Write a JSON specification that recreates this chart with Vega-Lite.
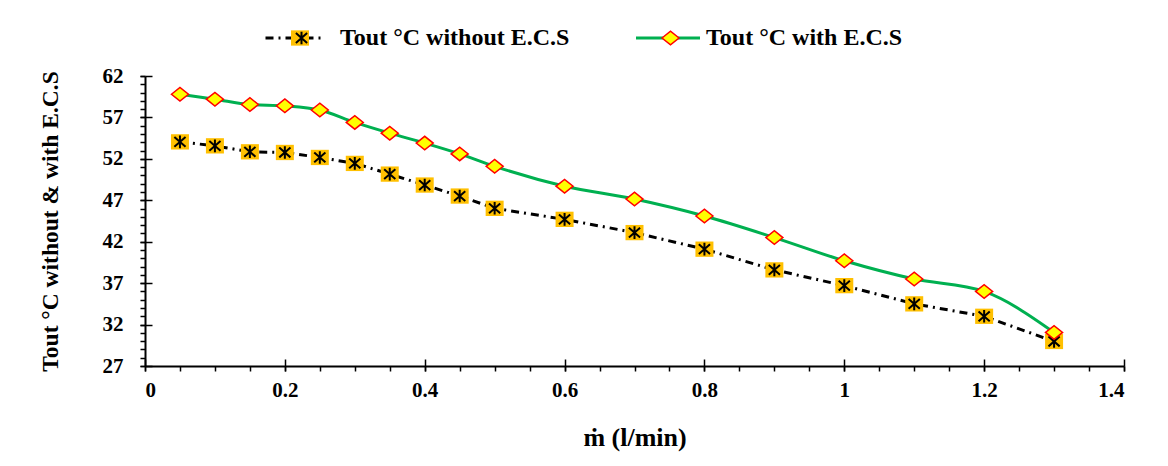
{
  "$schema": "https://vega.github.io/schema/vega-lite/v6.json",
  "width": 979,
  "height": 290,
  "autosize": {"type": "none"},
  "padding": {"left": 145, "top": 76, "right": 44, "bottom": 100},
  "background": "white",
  "data": {
    "values": [
      {"m": 0.05, "T": 54.05, "series": "Tout °C without E.C.S"},
      {"m": 0.1, "T": 53.57, "series": "Tout °C without E.C.S"},
      {"m": 0.15, "T": 52.85, "series": "Tout °C without E.C.S"},
      {"m": 0.2, "T": 52.77, "series": "Tout °C without E.C.S"},
      {"m": 0.25, "T": 52.17, "series": "Tout °C without E.C.S"},
      {"m": 0.3, "T": 51.45, "series": "Tout °C without E.C.S"},
      {"m": 0.35, "T": 50.16, "series": "Tout °C without E.C.S"},
      {"m": 0.4, "T": 48.84, "series": "Tout °C without E.C.S"},
      {"m": 0.45, "T": 47.51, "series": "Tout °C without E.C.S"},
      {"m": 0.5, "T": 46.03, "series": "Tout °C without E.C.S"},
      {"m": 0.6, "T": 44.7, "series": "Tout °C without E.C.S"},
      {"m": 0.7, "T": 43.1, "series": "Tout °C without E.C.S"},
      {"m": 0.8, "T": 41.1, "series": "Tout °C without E.C.S"},
      {"m": 0.9, "T": 38.6, "series": "Tout °C without E.C.S"},
      {"m": 1.0, "T": 36.7, "series": "Tout °C without E.C.S"},
      {"m": 1.1, "T": 34.5, "series": "Tout °C without E.C.S"},
      {"m": 1.2, "T": 33.0, "series": "Tout °C without E.C.S"},
      {"m": 1.3, "T": 29.96, "series": "Tout °C without E.C.S"},
      {"m": 0.05, "T": 59.8, "series": "Tout °C with E.C.S"},
      {"m": 0.1, "T": 59.2, "series": "Tout °C with E.C.S"},
      {"m": 0.15, "T": 58.56, "series": "Tout °C with E.C.S"},
      {"m": 0.2, "T": 58.4, "series": "Tout °C with E.C.S"},
      {"m": 0.25, "T": 57.9, "series": "Tout °C with E.C.S"},
      {"m": 0.3, "T": 56.4, "series": "Tout °C with E.C.S"},
      {"m": 0.35, "T": 55.1, "series": "Tout °C with E.C.S"},
      {"m": 0.4, "T": 53.9, "series": "Tout °C with E.C.S"},
      {"m": 0.45, "T": 52.6, "series": "Tout °C with E.C.S"},
      {"m": 0.5, "T": 51.1, "series": "Tout °C with E.C.S"},
      {"m": 0.6, "T": 48.7, "series": "Tout °C with E.C.S"},
      {"m": 0.7, "T": 47.15, "series": "Tout °C with E.C.S"},
      {"m": 0.8, "T": 45.1, "series": "Tout °C with E.C.S"},
      {"m": 0.9, "T": 42.5, "series": "Tout °C with E.C.S"},
      {"m": 1.0, "T": 39.7, "series": "Tout °C with E.C.S"},
      {"m": 1.1, "T": 37.5, "series": "Tout °C with E.C.S"},
      {"m": 1.2, "T": 36.0, "series": "Tout °C with E.C.S"},
      {"m": 1.3, "T": 31.05, "series": "Tout °C with E.C.S"}
    ]
  },
  "resolve": {
    "scale": {"stroke": "independent", "fill": "independent"},
    "axis": {"x": "independent", "y": "independent"}
  },
  "layer": [
    {
      "transform": [{"filter": "datum.series === 'Tout °C without E.C.S'"}],
      "mark": {"type": "line", "strokeWidth": 3, "strokeDash": [8, 5, 2, 5], "interpolate": "linear"},
      "encoding": {
        "x": {"field": "m", "type": "quantitative", "scale": {"domain": [0, 1.4], "nice": false, "zero": false},
          "axis": {"orient": "bottom", "values": [0, 0.2, 0.4, 0.6, 0.8, 1, 1.2, 1.4], "format": ".1~f", "tickSize": 5, "tickWidth": 1.5, "domainWidth": 2, "labelPadding": 8, "labelFont": "Liberation Serif", "labelFontWeight": "bold", "labelFontSize": 21, "title": "ṁ (l/min)", "titleFontSize": 26, "titlePadding": 24}},
        "y": {"field": "T", "type": "quantitative", "scale": {"domain": [27, 62], "nice": false, "zero": false},
          "axis": {"orient": "left", "values": [27, 32, 37, 42, 47, 52, 57, 62], "tickSize": 5, "tickWidth": 1.5, "domainWidth": 2, "labelPadding": 17, "labelFont": "Liberation Serif", "labelFontWeight": "bold", "labelFontSize": 21, "title": "Tout °C without & with E.C.S", "titleFontSize": 23.5, "titlePadding": 40}},
        "stroke": {"field": "series", "type": "nominal", "scale": {"domain": ["Tout °C without E.C.S"], "range": ["#000000"]},
          "legend": {"orient": "none", "legendX": 119, "legendY": -67, "title": null, "symbolType": "stroke", "symbolSize": 3025, "symbolStrokeWidth": 3, "symbolDash": [8, 5, 2, 5], "labelOffset": 18}}
      }
    },
    {
      "transform": [{"filter": "datum.series === 'Tout °C with E.C.S'"}],
      "mark": {"type": "line", "strokeWidth": 3, "interpolate": "monotone"},
      "encoding": {
        "x": {"field": "m", "type": "quantitative", "scale": {"domain": [0, 1.4], "nice": false, "zero": false},
          "axis": {"orient": "bottom", "values": [0, 0.05, 0.1, 0.15, 0.2, 0.25, 0.3, 0.35, 0.4, 0.45, 0.5, 0.55, 0.6, 0.65, 0.7, 0.75, 0.8, 0.85, 0.9, 0.95, 1, 1.05, 1.1, 1.15, 1.2, 1.25, 1.3, 1.35, 1.4], "labels": false, "domain": false, "title": null, "tickSize": 5, "tickWidth": 1.5}},
        "y": {"field": "T", "type": "quantitative", "scale": {"domain": [27, 62], "nice": false, "zero": false},
          "axis": {"orient": "left", "values": [27, 28, 29, 30, 31, 32, 33, 34, 35, 36, 37, 38, 39, 40, 41, 42, 43, 44, 45, 46, 47, 48, 49, 50, 51, 52, 53, 54, 55, 56, 57, 58, 59, 60, 61, 62], "labels": false, "domain": false, "title": null, "tickSize": 5, "tickWidth": 1.5}},
        "stroke": {"field": "series", "type": "nominal", "scale": {"domain": ["Tout °C with E.C.S"], "range": ["#00B050"]},
          "legend": {"orient": "none", "legendX": 489.5, "legendY": -71.5, "title": null, "symbolType": "stroke", "symbolSize": 4096, "symbolStrokeWidth": 3, "labelOffset": 4.5}}
      }
    },
    {
      "transform": [{"filter": "datum.series === 'Tout °C without E.C.S'"}],
      "mark": {"type": "point", "shape": "M-1,-0.85H1V0.85H-1Z", "filled": true, "size": 324, "strokeWidth": 0, "opacity": 1},
      "encoding": {
        "x": {"field": "m", "type": "quantitative", "scale": {"domain": [0, 1.4], "nice": false, "zero": false},
          "axis": {"orient": "bottom", "values": [0, 0.2, 0.4, 0.6, 0.8, 1, 1.2, 1.4], "labels": false, "domain": false, "title": null, "tickSize": -7, "tickWidth": 1.5}},
        "y": {"field": "T", "type": "quantitative", "scale": {"domain": [27, 62], "nice": false, "zero": false},
          "axis": {"orient": "left", "values": [27, 32, 37, 42, 47, 52, 57, 62], "labels": false, "domain": false, "title": null, "tickSize": -7, "tickWidth": 1.5}},
        "fill": {"field": "series", "type": "nominal", "scale": {"domain": ["Tout °C without E.C.S"], "range": ["#FFC000"]},
          "legend": {"orient": "none", "legendX": 143, "legendY": -50, "title": null, "symbolType": "M-1,-0.85H1V0.85H-1Z", "symbolSize": 324, "symbolStrokeWidth": 0, "labelExpr": "''"}}
      }
    },
    {
      "transform": [{"filter": "datum.series === 'Tout °C without E.C.S'"}],
      "mark": {"type": "point", "shape": "M0,-0.9V0.9M-0.8,-0.7L0.8,0.7M-0.8,0.7L0.8,-0.7", "filled": false, "size": 196, "strokeWidth": 2, "opacity": 1},
      "encoding": {
        "x": {"field": "m", "type": "quantitative", "scale": {"domain": [0, 1.4], "nice": false, "zero": false}, "axis": null},
        "y": {"field": "T", "type": "quantitative", "scale": {"domain": [27, 62], "nice": false, "zero": false}, "axis": null},
        "stroke": {"field": "series", "type": "nominal", "scale": {"domain": ["Tout °C without E.C.S"], "range": ["#000000"]},
          "legend": {"orient": "none", "legendX": 144.5, "legendY": -50, "title": null, "symbolType": "M0,-0.9V0.9M-0.8,-0.7L0.8,0.7M-0.8,0.7L0.8,-0.7", "symbolSize": 196, "symbolStrokeWidth": 2, "symbolFillColor": "transparent", "labelExpr": "''"}}
      }
    },
    {
      "transform": [{"filter": "datum.series === 'Tout °C with E.C.S'"}],
      "mark": {"type": "point", "shape": "M-1,0L0,-0.8L1,0L0,0.8Z", "filled": true, "size": 289, "stroke": "#FF0000", "strokeWidth": 1.5, "opacity": 1},
      "encoding": {
        "x": {"field": "m", "type": "quantitative", "scale": {"domain": [0, 1.4], "nice": false, "zero": false}, "axis": null},
        "y": {"field": "T", "type": "quantitative", "scale": {"domain": [27, 62], "nice": false, "zero": false}, "axis": null},
        "fill": {"field": "series", "type": "nominal", "scale": {"domain": ["Tout °C with E.C.S"], "range": ["#FFFF00"]},
          "legend": {"orient": "none", "legendX": 513.5, "legendY": -50, "title": null, "symbolType": "M-1,0L0,-0.8L1,0L0,0.8Z", "symbolSize": 289, "symbolStrokeColor": "#FF0000", "symbolStrokeWidth": 1.5, "labelExpr": "''"}}
      }
    }
  ],
  "config": {
    "view": {"stroke": null},
    "axis": {
      "grid": false,
      "labelFont": "Liberation Serif", "labelFontWeight": "bold", "labelFontSize": 21, "labelColor": "#000000",
      "titleFont": "Liberation Serif", "titleFontWeight": "bold", "titleColor": "#000000",
      "domainColor": "#000000", "tickColor": "#000000"
    },
    "legend": {
      "labelFont": "Liberation Serif", "labelFontWeight": "bold", "labelFontSize": 24, "labelColor": "#000000", "labelLimit": 400
    }
  }
}
